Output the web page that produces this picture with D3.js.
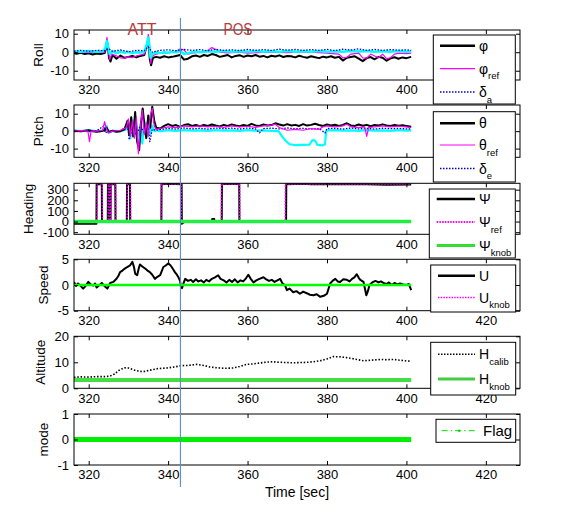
<!DOCTYPE html>
<html><head><meta charset="utf-8">
<script src="https://cdn.jsdelivr.net/npm/d3@7"></script>
<style>body{margin:0;background:#fff}svg{font-family:"Liberation Sans",Arial,sans-serif}</style>
</head><body><svg id="c" width="576" height="516"></svg>
<script>
// ---------------- DATA ----------------
const xDomain = [316.3, 428.6];
const xTicks = [320, 340, 360, 380, 400, 420];
const panelLabels = ["Roll", "Pitch", "Heading", "Speed", "Altitude", "mode"];
const yDomains = [[-15, 12], [-15, 15], [-120, 360], [-5, 5], [0, 20], [-1, 1]];
const yTicks = [[-10, 0, 10], [-10, 0, 10], [-100, 0, 100, 200, 300], [-5, 0, 5], [0, 10, 20], [-1, 0, 1]];
const markerTime = 343.1;
const phaseLabels = ["ATT", "POS"];

const rollPhi = [[316.3,-0.5],[317,-0.8],[318,-0.3],[319,-1],[320,-0.6],[321,-1.2],[322,-0.7],[323,-1],[324,-0.5],[324.5,3],[324.8,4.5],[325.1,-3],[325.5,-5],[326,-1.5],[327,-3.5],[328,-1.8],[329,-3],[330,-2.5],[331,-2],[332,-2.8],[333,-2],[334,-1.5],[334.8,5],[335.1,6],[335.4,-4],[335.7,-7],[336.2,-3],[337,-2.5],[338,-3],[339,-2.2],[340,-2.8],[341,-2.5],[342,-2],[343,-1.5],[344,-4],[345,-3.5],[346,-2.2],[347,-1.8],[348,-2.5],[349,-1.5],[350,-2],[351,-1],[352,-1.5],[353,-2.5],[354,-2],[355,-1.5],[356,-2.8],[357,-2],[358,-1.6],[359,-2.5],[360,-1.8],[361,-2.2],[362,-1.5],[363,-2.4],[364,-2],[365,-2.8],[366,-1.9],[367,-2.3],[368,-1.7],[369,-2.6],[370,-2],[371,-2.2],[372,-2.8],[373,-1.9],[374,-2.5],[375,-3],[376,-2.2],[377,-2.7],[378,-3.2],[379,-2.4],[380,-2.8],[381,-2.2],[382,-3],[383,-2.5],[384,-4.5],[385,-3],[386,-2.6],[387,-2.2],[388,-3.5],[389,-4.8],[390,-3.2],[391,-2.6],[392,-3.8],[393,-2.5],[394,-3],[395,-4.6],[396,-3.3],[397,-2.7],[398,-3.5],[399,-2.8],[400,-3.2],[401.2,-2.5]];
const rollPhiRef = [[316.3,0],[318,0.3],[320,-0.2],[322,0.2],[324,0],[324.4,5],[324.6,8],[324.9,2],[325.3,-4],[325.8,-1],[327,-2],[328,-3],[329,-3.2],[330,-2.5],[331,-3],[332,-2],[333,-1.5],[334,-1],[334.7,4],[335,9.7],[335.3,5],[335.6,-6],[336,-2],[337,-1],[338,-0.5],[340,-0.3],[342,0.5],[343,1.8],[344,1.2],[345,-1],[346,-0.5],[348,0],[350,1],[351,2.5],[352,1.5],[353,0],[355,-0.3],[358,0],[360,-0.5],[365,0],[370,-0.2],[375,0.2],[380,-0.5],[383,-1],[384,-3],[385,-2.8],[386,-1],[388,-0.5],[389,-3],[390,-3.2],[391,-1],[392,-2],[393,-3],[394,-1],[395,-3.5],[396,-3],[397,-1],[398,-0.5],[400,-0.8],[401.2,-0.5]];
const rollDeltaA = [[316.3,0.5],[318,1],[320,0.5],[322,1],[324,0.8],[325,2],[326,0.5],[328,1.2],[330,0.3],[332,1],[334,0.8],[335,3],[336,0],[338,1],[340,1.3],[342,0.8],[344,1.5],[346,1],[348,1.4],[350,0.8],[352,1.6],[354,1],[356,1.3],[358,0.9],[360,1.5],[362,1],[364,1.4],[366,1],[368,1.6],[370,1.1],[372,1.5],[374,1],[376,1.4],[378,1],[380,1.5],[382,0.9],[384,1.6],[386,1.2],[388,1.8],[390,1],[392,1.5],[394,1],[396,1.4],[398,1.1],[400,1.3],[401.2,1]];
const rollCmd = [[316.3,0.5],[318,0.3],[320,0.6],[322,0.2],[323.5,0.5],[324.2,2],[324.6,6],[324.9,3],[325.3,-1],[326,0.5],[327,-0.5],[328,0.3],[329,-0.3],[330,0.2],[331,-0.5],[332,0],[333,-0.2],[334,0.3],[334.6,4],[335,8],[335.3,3],[335.6,-3],[336,-1],[337,0],[338,-0.5],[339,0],[340,-0.3],[341,0.2],[342,0],[343,0.8],[344,-1],[345,-0.5],[346,0],[347,0.4],[348,0],[350,0.5],[352,0.3],[354,0.6],[356,0.2],[358,0.5],[360,0.3],[362,0.6],[364,0.2],[366,0.5],[368,0.3],[370,0.6],[372,0.2],[374,0.5],[376,0.3],[378,0.6],[380,0.2],[382,0.5],[384,0.3],[386,0.7],[388,0.4],[390,0.6],[392,0.2],[394,0.5],[396,0.3],[398,0.6],[400,0.3],[401.2,0.5]];

const pitchTheta = [[316.3,0.2],[318,0],[320,0.5],[321,0],[322,-0.3],[323,0],[324,0.5],[324.5,2],[325,-0.5],[326,0.2],[327,-0.3],[328,0],[329,1],[329.8,6],[330.2,-2],[330.7,8],[331.2,-3],[331.7,11],[332.2,-6],[332.7,-11],[333.2,5],[333.6,13],[334,4],[334.5,-4],[335,9],[335.5,2],[336,14],[336.5,6],[337,2],[338,1.5],[339,3],[340,4],[341,3],[342,3.5],[343,2.5],[344,3.5],[345,4],[346,3],[347,3.5],[348,2.8],[349,3.6],[350,3],[351,3.8],[352,3.2],[353,2.7],[354,3.6],[355,3],[356,3.8],[357,3.2],[358,2.8],[359,3.5],[360,3],[361,4.2],[362,3.3],[363,3],[364,3.8],[365,3.2],[366,3.5],[367,4.5],[368,3.8],[369,3.2],[370,4],[371,3.3],[372,3.6],[373,3],[374,4],[375,3.2],[376,3.6],[377,4.2],[378,3.5],[379,3],[380,3.8],[381,3.2],[382,3.7],[383,3],[384,3.6],[385,4.5],[386,3.3],[387,3],[388,3.8],[389,3.1],[390,3.6],[391,2.8],[392,3.5],[393,3.2],[394,3.9],[395,3.3],[396,3],[397,3.6],[398,3.1],[399,3.4],[400,3],[401.2,2.5]];
const pitchThetaRef = [[316.3,0],[318,0.3],[319.8,0],[320.2,-6],[320.6,0],[322,0],[323.5,0.5],[324,5.5],[324.5,1],[325,-1],[326,0],[328,0.5],[329.5,2],[330,7],[330.5,-3],[331,6],[331.5,-4],[332,8],[332.5,-13],[333,2],[333.5,12],[334,-2],[334.5,5],[335,-3],[335.5,9],[336,13],[336.5,3],[337,1],[338,1.5],[340,2.5],[342,2],[344,3],[346,2.5],[348,3],[350,2.4],[352,2.8],[354,2.2],[356,3],[358,2.5],[360,2.8],[362,2.2],[364,3],[366,3.5],[367,4],[368,2],[370,0.5],[372,1],[374,0.5],[376,1.5],[378,1],[379,2.5],[380,3],[382,2.5],[384,3],[385,4],[386,2.5],[388,2],[389.5,2.5],[390,-3],[390.5,2.2],[392,2.4],[394,3],[396,2.5],[398,2.9],[400,2.5],[401.2,2]];
const pitchDeltaE = [[316.3,0],[318,0.3],[320,-0.3],[322,0.2],[323.8,3],[324.2,-1],[325,0.5],[326,0],[328,0.3],[329.8,3],[330.2,-5],[331,2],[332,-2],[333,3],[334,-1],[335,2],[335.4,-6],[336,1],[337,0.5],[338,1],[340,1.5],[342,1.2],[344,1.8],[346,1.3],[348,1.6],[350,1.2],[352,1.8],[354,1.4],[356,1.7],[358,1.2],[360,1.8],[362,1.3],[363,-1],[364,1.5],[366,1.7],[368,1.3],[370,1.8],[372,1.4],[374,1.6],[376,1.2],[378,1.5],[379.5,-1],[380,1.5],[382,1.6],[384,1.2],[386,1.8],[388,1.3],[390,1.6],[392,1.2],[394,1.7],[396,1.4],[398,1.6],[400,1.3],[401.2,1.2]];
const pitchCmd = [[316.3,0.3],[318,0],[320,0.4],[322,0],[324,0.5],[324.5,3],[325,-1],[326,0.2],[328,0],[329.5,1],[330,5],[330.5,-4],[331,6],[331.5,-3],[332,5],[332.5,-8],[333,4],[333.5,-7],[334,6],[334.5,-3],[335,4],[335.5,-2],[336,3],[336.5,0],[337,0.5],[338,0],[340,0.5],[342,0.2],[344,0.6],[346,0.3],[348,0.5],[350,0.2],[352,0.6],[354,0.3],[356,0.5],[358,0.2],[360,0.6],[362,0.3],[364,0.5],[366,0.2],[367.8,0],[368.7,-3],[369.6,-5.5],[370.6,-7.5],[372,-8],[374,-7.9],[375.6,-7.8],[376.3,-5.2],[377,-5.4],[377.6,-7.9],[378.8,-8.2],[379.5,-7.6],[379.8,0],[380.5,0.5],[382,0.6],[384,0.3],[386,0.5],[388,0.2],[390,0.6],[392,0.3],[394,0.5],[396,0.2],[398,0.6],[400,0.3],[401.2,0.4]];

const headPsi = [[316.3,-20],[321.95,-20],[322.0,350],[323.3,352],[323.35,-3],[324.8,-3],[324.85,350],[325.2,348],[325.25,-3],[325.5,-3],[325.55,352],[326.7,350],[326.75,-3],[329.6,-3],[329.65,352],[330.4,350],[330.45,-3],[338.3,-3],[338.35,350],[340,355],[343.4,352],[343.45,-20],[344,-5],[351,-5],[351.1,25],[351.6,25],[351.7,-5],[353.5,-5],[353.55,355],[357.9,353],[357.95,-3],[369.7,-3],[369.75,352],[374,355],[376,350],[380,354],[390,352],[395,346],[401.2,348]];
const headPsiRef = [[316.3,0],[322.1,0],[322.15,355],[323.4,355],[323.45,0],[324.9,0],[324.95,355],[325.3,355],[325.35,0],[325.6,0],[325.65,355],[326.8,355],[326.85,0],[329.7,0],[329.75,355],[330.5,355],[330.55,0],[338.2,0],[338.25,355],[343.3,355],[343.35,0],[353.4,0],[353.45,355],[358.0,355],[358.05,0],[369.5,0],[369.55,355],[401.2,355]];
const headPsiKnob = [[316.3,0],[401.2,0]];

const speedU = [[316.3,0.6],[316.8,-0.2],[317.3,0.3],[317.8,0],[318.6,-0.7],[319.2,-0.2],[319.9,0.6],[320.5,0.1],[321.2,-0.1],[321.6,0.3],[322,-0.5],[322.6,-0.1],[323.3,0.4],[324.1,-0.3],[324.7,-0.7],[325.4,0.4],[326.2,0.6],[327,1.2],[327.5,1.8],[327.9,2.5],[328.5,2.8],[329.1,3.2],[329.7,3.5],[330.4,3.8],[331,4.5],[331.4,3.5],[331.7,2.2],[332.2,1.9],[332.6,3.2],[332.9,4],[333.5,3.6],[334.2,3.2],[334.8,2.8],[335.4,2.5],[336,2],[336.7,1.2],[337.3,1.6],[338,1.9],[338.8,3.5],[339.4,3.8],[340,4.2],[340.5,3.9],[340.9,3.5],[341.3,3],[341.7,2.5],[342.2,2],[342.6,1.5],[343,0.8],[343.2,-0.2],[343.5,-0.6],[343.9,0.4],[344.3,1.2],[345,0.8],[345.7,1],[346.3,0.6],[347,1.1],[347.6,0.7],[348.3,0.9],[349,0.5],[349.6,1],[350.3,0.7],[351,1.2],[351.8,1.5],[352.6,1.9],[353.2,1.2],[354,0.9],[354.7,0.5],[355.4,1],[356.1,0.6],[356.8,1.1],[357.5,0.5],[358.2,0.9],[358.9,0.7],[359.6,1.3],[360.2,2],[360.8,1.2],[361.5,0.5],[362.2,0.9],[363,1.2],[364,1.5],[364.7,1.1],[365.4,0.8],[366.1,1],[366.8,0.6],[367.5,0.9],[368.2,1.2],[368.8,0.3],[369.4,0],[369.9,-1],[370.6,-0.7],[371.5,-1.4],[372.3,-1.2],[373.2,-1.7],[374,-1.3],[374.9,-1.6],[375.7,-1.9],[376.6,-2],[377.4,-1.8],[378.3,-2.3],[379.2,-2.1],[380,-1.7],[380.8,0.3],[381.4,0.8],[382.1,1.2],[382.7,0.7],[383.3,0.6],[384.1,1.1],[385,1],[385.7,0.7],[386.3,1.2],[386.9,1.5],[387.5,2.1],[388,1.4],[388.4,1],[389.2,0.6],[389.9,-2],[390.3,-1.2],[390.7,0],[391.4,0.5],[392.2,0.8],[393,0.5],[393.6,0.7],[394.2,0.4],[395,0.2],[395.6,0.5],[396.3,0],[397,0.4],[397.7,0.1],[398.4,0.3],[399.2,0.1],[400.1,0],[400.6,0.2],[401.2,-1]];
const speedUKnob = [[316.3,0],[401.2,0]];

const altHCalib = [[316.3,4.2],[318,4.4],[320,4.3],[322,4.5],[324,4.5],[325.4,4.7],[326.5,5.5],[327.5,6.8],[328.9,7.9],[330,7.8],[331.5,7],[333,6.5],[333.8,6.4],[335.5,7],[337.5,7.6],[339.6,7.8],[341.5,8.2],[343.4,8.7],[345,8.8],[347.2,9.2],[349,8.8],[350.5,8.2],[352.2,7.9],[354,7.7],[356.4,7.8],[358,8.4],[359.8,9.2],[361.5,9.4],[363,9.7],[364.8,10.1],[366.5,10.2],[368.2,10],[369.9,9.9],[371.5,9.8],[373.2,9.9],[375,10],[376.6,10.2],[378.3,10.6],[380,11.3],[381.6,12.2],[383.3,12.1],[385,11.8],[386.5,11.4],[387.8,11],[389.2,10.6],[391,10.8],[393.4,11.1],[395,11],[396.7,11.1],[398.4,10.8],[400.1,10.5],[401.2,10.4]];
const altHKnob = [[316.3,3.2],[401.2,3.2]];

const modeFlag = [[316.3,0],[401.2,0]];

// ---------------- LAYOUT / STYLE ----------------
const panelBox = [[30,80],[105,157.3],[183.3,234.3],[259.3,310.7],[336.3,388.3],[414,465]];
const labelX = [38, 38, 28, 43, 40, 43];
const L = 74, R = 520;

const panelSeries = [
  [ {d:rollPhi,c:"#000",w:2}, {d:rollPhiRef,c:"#ff00ff",w:1.2}, {d:rollCmd,c:"#00ffff",w:2.5}, {d:rollDeltaA,c:"#0000cc",w:1.3,dash:"1.5,1.5"} ],
  [ {d:pitchCmd,c:"#00ffff",w:2.2}, {d:pitchDeltaE,c:"#0000cc",w:1.3,dash:"1.5,1.5"}, {d:pitchTheta,c:"#000",w:2}, {d:pitchThetaRef,c:"#ff00ff",w:1.2} ],
  [ {d:headPsi,c:"#000",w:2}, {d:headPsiRef,c:"#ff00ff",w:1.6,dash:"1.5,1.5"}, {d:headPsiKnob,c:"#22ee44",w:3.5} ],
  [ {d:speedU,c:"#000",w:2}, {d:speedUKnob,c:"#ff00ff",w:1,dash:"1.5,1.5"}, {d:speedUKnob,c:"#00ff00",w:2.5} ],
  [ {d:altHCalib,c:"#000",w:1.6,dash:"1.5,1.8"}, {d:altHKnob,c:"#44dd44",w:4} ],
  [ {d:modeFlag,c:"#00ee00",w:5} ]
];

const legends = [
  {box:[433.3,35,515.3,104], lx:[440,475], tx:479, items:[
    {y:45.7,m:"φ",s:"",c:"#000",w:2.5},{y:68.7,m:"φ",s:"ref",c:"#ff00ff",w:1.2},{y:92,m:"δ",s:"a",c:"#0000cc",w:1.5,dash:"1.5,1.5"}]},
  {box:[433.3,111.7,515.3,182], lx:[440,475], tx:479, items:[
    {y:123.3,m:"θ",s:"",c:"#000",w:2.5},{y:145,m:"θ",s:"ref",c:"#ff00ff",w:1.2},{y:168.5,m:"δ",s:"e",c:"#0000cc",w:1.5,dash:"1.5,1.5"}]},
  {box:[429.3,189,515.3,258], lx:[436.7,475], tx:479, items:[
    {y:199,m:"Ψ",s:"",c:"#000",w:2.5},{y:222,m:"Ψ",s:"ref",c:"#ff00ff",w:2,dash:"1.5,1.2"},{y:245.5,m:"Ψ",s:"knob",c:"#33dd33",w:3}]},
  {box:[430.7,265,515.7,312], lx:[438,475], tx:479, items:[
    {y:275.7,m:"U",s:"",c:"#000",w:2.5},{y:297.5,m:"U",s:"knob",c:"#ff00ff",w:1.5,dash:"1.5,1.2"}]},
  {box:[430.7,342.3,515.7,395], lx:[438,475], tx:479, items:[
    {y:354.3,m:"H",s:"calib",c:"#000",w:1.5,dash:"1.5,1.5"},{y:379,m:"H",s:"knob",c:"#44cc44",w:3}]},
  {box:[436,419.3,515.7,442.3], lx:[441.7,476.7], tx:483, items:[
    {y:430.7,m:"Flag",s:"",c:"#00dd00",w:1,dash:"6,3,1.5,3",big:true}]}
];

// ---------------- DRAW ----------------
const svg = d3.select("#c");
const x = d3.scaleLinear().domain(xDomain).range([L, R]);
const defs = svg.append("defs");

panelBox.forEach((pb, i) => {
  const [top, bottom] = pb;
  const y = d3.scaleLinear().domain(yDomains[i]).range([bottom, top]);
  defs.append("clipPath").attr("id", "clip" + i).append("rect")
    .attr("x", L).attr("y", top).attr("width", R - L).attr("height", bottom - top);
  const g = svg.append("g");
  g.append("rect").attr("x", L).attr("y", top).attr("width", R - L).attr("height", bottom - top).attr("fill", "#fff");
  const line = d3.line().x(d => x(d[0])).y(d => y(d[1]));
  panelSeries[i].forEach(s => {
    g.append("path").datum(s.d).attr("clip-path", `url(#clip${i})`)
      .attr("d", line).attr("fill", "none").attr("stroke", s.c)
      .attr("stroke-width", s.w).attr("stroke-dasharray", s.dash || null)
      .attr("stroke-linejoin", "round");
  });
  const ax = [
    g.append("g").attr("transform", `translate(0,${bottom})`).call(d3.axisBottom(x).tickValues(xTicks).tickSize(-4).tickSizeOuter(0).tickPadding(5)),
    g.append("g").attr("transform", `translate(0,${top})`).call(d3.axisTop(x).tickValues(xTicks).tickSize(-4).tickSizeOuter(0).tickFormat("")),
    g.append("g").attr("transform", `translate(${L},0)`).call(d3.axisLeft(y).tickValues(yTicks[i]).tickSize(-4).tickSizeOuter(0).tickPadding(5).tickFormat(d => String(d))),
    g.append("g").attr("transform", `translate(${R},0)`).call(d3.axisRight(y).tickValues(yTicks[i]).tickSize(-4).tickSizeOuter(0).tickFormat(""))
  ];
  ax.forEach(a => {
    a.select(".domain").remove();
    a.selectAll("line").attr("stroke", "#000");
    a.selectAll("text").attr("font-size", 13).attr("fill", "#000").attr("font-family", "Liberation Sans, Arial, sans-serif");
  });
  g.append("rect").attr("x", L).attr("y", top).attr("width", R - L).attr("height", bottom - top)
    .attr("fill", "none").attr("stroke", "#000").attr("stroke-width", 1);
  svg.append("text").attr("transform", `translate(${labelX[i]},${(top + bottom) / 2}) rotate(-90)`)
    .attr("text-anchor", "middle").attr("dominant-baseline", "central")
    .attr("font-size", 13.5).attr("fill", "#000").text(panelLabels[i]);
});

// vertical marker line
svg.append("line").attr("x1", x(markerTime)).attr("x2", x(markerTime)).attr("y1", 18).attr("y2", 487)
  .attr("stroke", "#5b8fc7").attr("stroke-width", 1.1);

// phase labels
[[142, phaseLabels[0]], [238, phaseLabels[1]]].forEach(([px, t]) => {
  svg.append("text").attr("x", px).attr("y", 35).attr("text-anchor", "middle").attr("font-size", 16)
    .attr("fill", "#b83a3a").attr("textLength", 29).attr("lengthAdjust", "spacingAndGlyphs").text(t);
});

// x label
svg.append("text").attr("x", 297).attr("y", 497).attr("text-anchor", "middle").attr("font-size", 14)
  .attr("fill", "#000").text("Time [sec]");

// legends
legends.forEach(lg => {
  const [x0, y0, x1, y1] = lg.box;
  const g = svg.append("g");
  g.append("rect").attr("x", x0).attr("y", y0).attr("width", x1 - x0).attr("height", y1 - y0)
    .attr("fill", "#fff").attr("stroke", "#000").attr("stroke-width", 1);
  lg.items.forEach(it => {
    g.append("line").attr("x1", lg.lx[0]).attr("x2", lg.lx[1]).attr("y1", it.y).attr("y2", it.y)
      .attr("stroke", it.c).attr("stroke-width", it.w).attr("stroke-dasharray", it.dash || null);
    if (it.big) {
      g.append("circle").attr("cx", (lg.lx[0] + lg.lx[1]) / 2).attr("cy", it.y).attr("r", 1.2).attr("fill", it.c);
    }
    const t = g.append("text").attr("x", lg.tx).attr("y", it.y + 5).attr("font-size", it.big ? 15 : 14).attr("fill", "#000");
    t.append("tspan").text(it.m);
    if (it.s) t.append("tspan").attr("dy", 5.5).attr("font-size", 9.5).text(it.s);
  });
});
</script>
</body></html>
